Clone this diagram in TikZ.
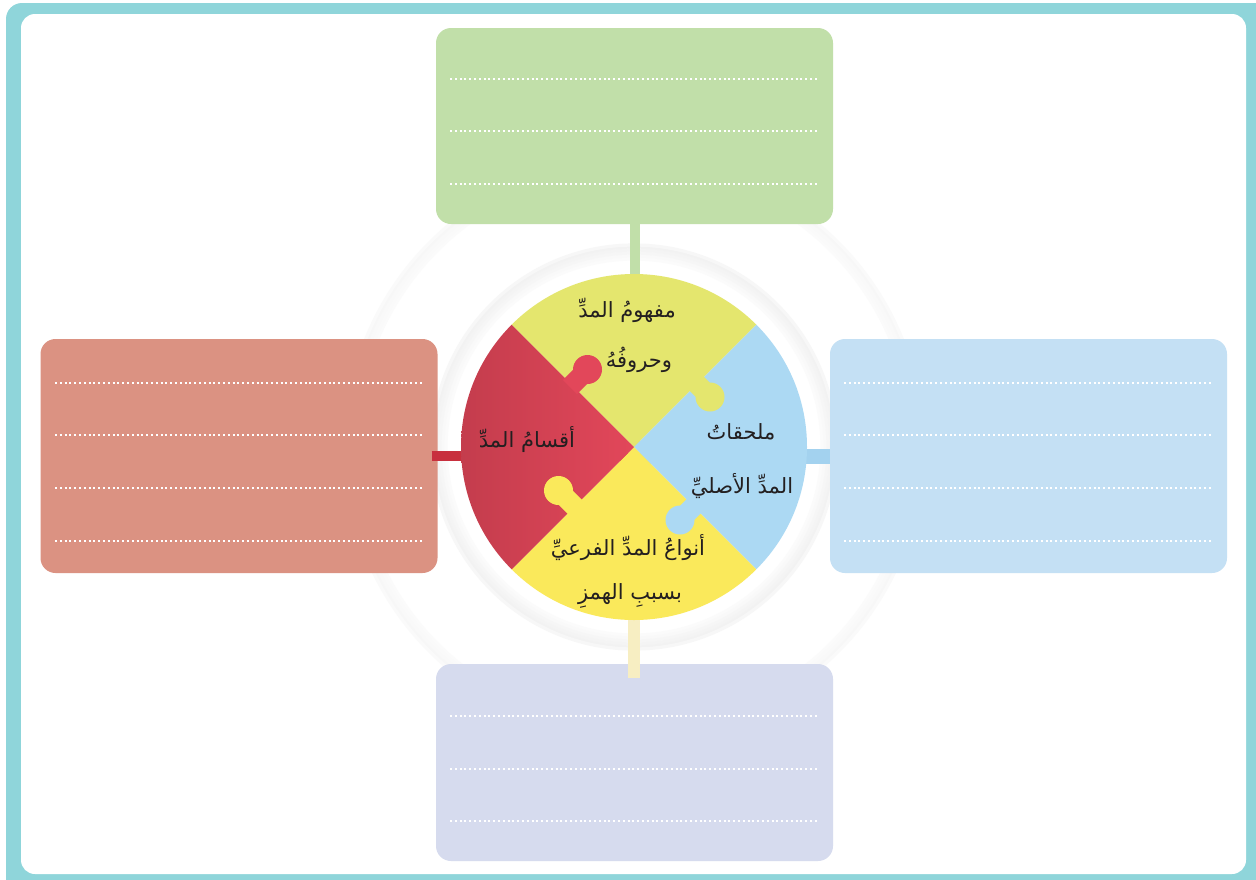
\documentclass[tikz,border=0pt]{standalone}
\usepackage{fontspec}
\newfontfamily\arabicfont[Script=Arabic]{DejaVu Sans}
\TeXXeTstate=1
\usetikzlibrary{calc}
\definecolor{frameteal}{HTML}{8FD5DA}
\definecolor{boxgreen}{HTML}{C1DFA9}
\definecolor{boxred}{HTML}{DB9282}
\definecolor{boxblue}{HTML}{C4E0F4}
\definecolor{boxlav}{HTML}{D6DBEE}
\definecolor{pctop}{HTML}{E4E66E}
\definecolor{pcright}{HTML}{ACD9F3}
\definecolor{pcbottom}{HTML}{FAE95B}
\definecolor{pcleft}{HTML}{E2475A}
\definecolor{pcleftdark}{HTML}{C23C4C}
\definecolor{barred}{HTML}{C8303E}
\definecolor{barblue}{HTML}{A3D2EF}
\definecolor{baryellow}{HTML}{F7EEC2}
\definecolor{bargreen}{HTML}{C1DFA9}
\definecolor{inktext}{HTML}{231F20}
\tikzset{
  infobox/.style={rounded corners=15pt, inner sep=0pt, minimum width=397pt},
  dotline/.style={white, line width=2pt, dash pattern=on 2pt off 2.8pt},
  lbl/.style={font=\arabicfont\fontsize{21}{24}\selectfont, text=inktext, inner sep=0pt},
  neck/.style={line width=20pt},
}
\begin{document}
\begin{tikzpicture}[x=1pt,y=-1pt]
\useasboundingbox (0,0) rectangle (1256,879);
\clip (0,0) rectangle (1256,879);
% frame
\fill[frameteal, rounded corners=16pt] (6,3) rectangle (1290,910);
\fill[white, rounded corners=14pt] (21,14) rectangle (1246,874);
% faint rings (soft shadows)
\foreach \rr/\op in {278/1.5,281/2,284/2.5,287/3,289/2}
  \draw[black!\op, line width=3.2pt] (634,447) circle[radius=\rr pt];
\foreach \rr/\op in {188/1.5,191/2.5,194/3.5,197/4.5,200/5,202/3}
  \draw[black!\op, line width=3.2pt] (634,447) circle[radius=\rr pt];
% boxes
\node[infobox, fill=boxgreen, minimum height=196pt] (topbox) at (634.5,126) {};
\node[infobox, fill=boxred, minimum height=234pt] (leftbox) at (239,456) {};
\node[infobox, fill=boxblue, minimum height=234pt] (rightbox) at (1028.5,456) {};
\node[infobox, fill=boxlav, minimum height=197pt] (botbox) at (634.5,762.5) {};
% dotted writing lines
\foreach \yy in {79,131,184} \draw[dotline] (450,\yy) -- (818,\yy);
\foreach \yy in {383,435,488,541} \draw[dotline] (55,\yy) -- (422,\yy);
\foreach \yy in {383,435,488,541} \draw[dotline] (844,\yy) -- (1212,\yy);
\foreach \yy in {716,769,821} \draw[dotline] (450,\yy) -- (818,\yy);
% hub
\node[circle, minimum size=346pt, inner sep=0pt] (hub) at (634,447) {};
% connectors
\draw[bargreen, line width=10pt] (topbox.south) -- (topbox.south |- hub.center);
\draw[barred, line width=10pt] ([xshift=-6pt]leftbox.east) -- (leftbox.east -| hub.center);
\draw[barblue, line width=15pt] (rightbox.west) -- (rightbox.west -| hub.center);
\draw[baryellow, line width=12pt] (hub.center) -- ([yshift=-14pt]botbox.north -| hub.center);
% puzzle pieces
\begin{scope}
\clip (634,447) circle[radius=173pt];
\fill[pctop] (634,447) -- (334,147) -- (934,147) -- cycle;
\fill[pcright] (634,447) -- (934,147) -- (934,747) -- cycle;
\fill[pcbottom] (634,447) -- (934,747) -- (334,747) -- cycle;
\shade[left color=pcleftdark, right color=pcleft] (634,447) -- (450,631) -- (450,263) -- cycle;
% knobs
\draw[pcleft, neck] (570,387) -- (587,370);
\fill[pcleft] (587.5,369.5) circle[radius=14.5pt];
\draw[pctop, neck] (695,382) -- (710,397);
\fill[pctop] (710,397) circle[radius=14.5pt];
\draw[pcbottom, neck] (577,509) -- (559,491);
\fill[pcbottom] (558.5,490.5) circle[radius=14.5pt];
\draw[pcright, neck] (695,505) -- (680,520);
\fill[pcright] (680,520) circle[radius=14.5pt];
\end{scope}
% labels
\node[lbl] (t1) at (627,310) {\beginR مفهومُ المدِّ\endR};
\node[lbl] (t2) at (639,360) {\beginR وحروفُهُ\endR};
\node[lbl] (r1) at (741,432) {\beginR ملحقاتُ\endR};
\node[lbl] (r2) at (742,486) {\beginR المدِّ الأصليِّ\endR};
\node[lbl] (b1) at (628,548) {\beginR أنواعُ المدِّ الفرعيِّ\endR};
\node[lbl] (b2) at (630,596) {\beginR بسببِ الهمزِ\endR};
\node[lbl] (l1) at (527,440) {\beginR أقسامُ المدِّ\endR};
\end{tikzpicture}
\end{document}
